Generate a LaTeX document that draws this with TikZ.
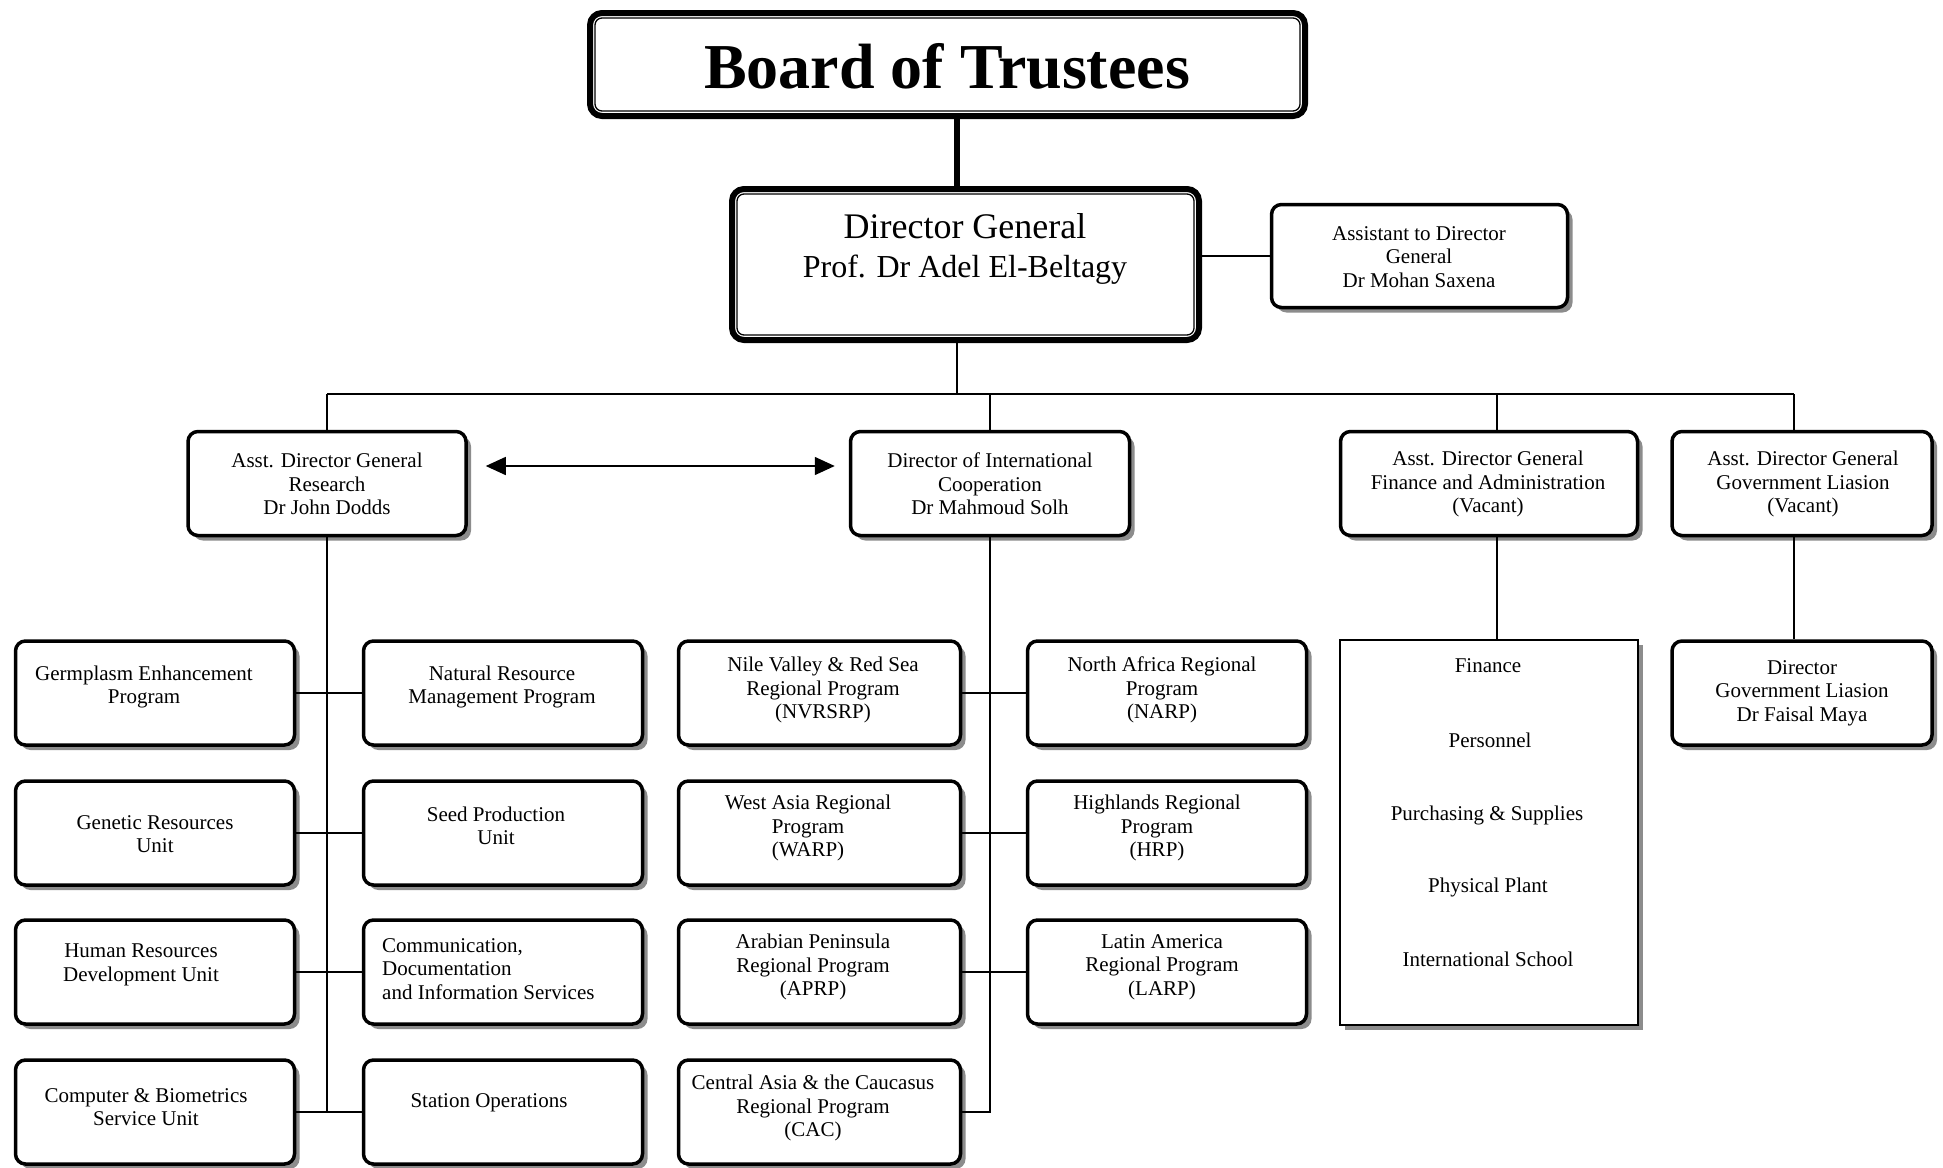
\documentclass[tikz,border=0pt]{standalone}
\usepackage{fontspec}
\setmainfont{Liberation Serif}
\usetikzlibrary{arrows.meta,shadows}
\begin{document}
\begin{tikzpicture}[x=1pt,y=-1pt,
  box/.style={draw, line width=3.5pt, rounded corners=10pt, fill=white,
    drop shadow={shadow xshift=5pt, shadow yshift=-5pt, fill=black!45, opacity=1},
    inner sep=0pt, minimum width=279pt, minimum height=104pt},
  bigbox/.style={draw, line width=6pt, rounded corners=12pt, fill=white, inner sep=0pt},
  innerline/.style={line width=1.3pt, rounded corners=7pt},
  listbox/.style={draw, line width=2.5pt, fill=white,
    drop shadow={shadow xshift=5pt, shadow yshift=-5pt, fill=black!45, opacity=1},
    inner sep=0pt},
  txt/.style={align=center, font=\fontsize{21}{23.5}\selectfont, inner sep=0pt, yshift=-2pt},
  conn/.style={line width=1.5pt},
]
\useasboundingbox[fill=white] (0,0) rectangle (1943,1167);

% ---- top boxes
\node[bigbox, minimum width=715pt, minimum height=103pt] (board) at (947.5,64.5) {};
\draw[innerline] ([shift={(8pt,-8pt)}]board.north west) rectangle ([shift={(-8pt,8pt)}]board.south east);
\node[font=\bfseries\fontsize{64}{70}\selectfont, inner sep=0pt] (tboard) at (947,66) {Board of Trustees};

\node[bigbox, minimum width=467pt, minimum height=151pt] (dg) at (965.5,264.5) {};
\draw[innerline] ([shift={(8pt,-8pt)}]dg.north west) rectangle ([shift={(-8pt,8pt)}]dg.south east);
\node[align=center, font=\fontsize{32}{38.5}\selectfont, inner sep=0pt] (tdg) at (965,249) {{\fontsize{36}{38.5}\selectfont Director General}\\Prof. Dr Adel El-Beltagy};

\node[box, minimum width=296pt, minimum height=103pt] (asst) at (1419.5,256) {};
\node[txt] (tasst) at (1419,255) {Assistant to Director\\General\\Dr Mohan Saxena};

% ---- second level
\node[box, minimum width=278pt] (research) at (327,483.5) {};
\node[txt] (tres) at (327,482) {Asst. Director General\\Research\\Dr John Dodds};
\node[box] (dic) at (990,483.5) {};
\node[txt] (tdic) at (990,482) {Director of International\\Cooperation\\Dr Mahmoud Solh};
\node[box, minimum width=297pt] (finadg) at (1489,483.5) {};
\node[txt] (tfin) at (1488,482) {Asst. Director General\\Finance and Administration\\(Vacant)};
\node[box, minimum width=260pt] (govadg) at (1802,483.5) {};
\node[txt] (tgov) at (1803,482) {Asst. Director General\\Government Liasion\\(Vacant)};

% ---- research units
\node[box] (germ) at (155,693) {};
\node[txt] (tgerm) at (144,685) {Germplasm Enhancement\\Program};
\node[box] (nrm) at (503,693) {};
\node[txt] (tnrm) at (502,685) {Natural Resource\\Management Program};
\node[box] (gen) at (155,833) {};
\node[txt] (tgen) at (155,832) {Genetic Resources\\Unit};
\node[box] (seed) at (503,833) {};
\node[txt] (tseed) at (496,824) {Seed Production\\Unit};
\node[box] (hrd) at (155,972) {};
\node[txt] (thrd) at (141,963) {Human Resources\\Development Unit};
\node[box] (com) at (503,972) {};
\node[txt, align=left, anchor=west] (tcom) at (382,967) {Communication,\\Documentation\\and Information Services};
\node[box] (cbs) at (155,1112) {};
\node[txt] (tcbs) at (146,1105) {Computer \& Biometrics\\Service Unit};
\node[box] (so) at (503,1112) {};
\node[txt] (tso) at (489,1101) {Station Operations};

% ---- regional programs
\node[box, minimum width=282pt] (nv) at (819.5,693) {};
\node[txt] (tnv) at (823,688) {Nile Valley \& Red Sea\\Regional Program\\(NVRSRP)};
\node[box] (na) at (1167,693) {};
\node[txt] (tna) at (1162,688) {North Africa Regional\\Program\\(NARP)};
\node[box, minimum width=282pt] (wa) at (819.5,833) {};
\node[txt] (twa) at (808,826) {West Asia Regional\\Program\\(WARP)};
\node[box] (hi) at (1167,833) {};
\node[txt] (thi) at (1157,826) {Highlands Regional\\Program\\(HRP)};
\node[box, minimum width=282pt] (ap) at (819.5,972) {};
\node[txt] (tap) at (813,965) {Arabian Peninsula\\Regional Program\\(APRP)};
\node[box] (la) at (1167,972) {};
\node[txt] (tla) at (1162,965) {Latin America\\Regional Program\\(LARP)};
\node[box, minimum width=282pt] (cac) at (819.5,1112) {};
\node[txt] (tcac) at (813,1106) {Central Asia \& the Caucasus\\Regional Program\\(CAC)};

% ---- finance list
\node[listbox, minimum width=298pt, minimum height=385pt] (finlist) at (1489,832.5) {};
\node[txt] (f1) at (1488,664) {Finance};
\node[txt] (f2) at (1490,738) {Personnel};
\node[txt] (f3) at (1487,813) {Purchasing \& Supplies};
\node[txt] (f4) at (1488,885) {Physical Plant};
\node[txt] (f5) at (1488,957) {International School};

% ---- government liaison
\node[box, minimum width=260pt] (dgov) at (1802,693) {};
\node[txt] (tdgov) at (1802,691) {Director\\Government Liasion\\Dr Faisal Maya};

% ---- connectors
\draw[line width=6pt] ([xshift=9.5pt]board.south) -- ([xshift=9.5pt]board.south |- dg.north);
\draw[conn] (dg.east |- asst.west) -- (asst.west);
\coordinate (busL) at (327,394);
\coordinate (busR) at (1794,394);
\draw[conn] ([xshift=-8.5pt]dg.south) -- ([xshift=-8.5pt]dg.south |- busL);
\draw[conn] (busL) -- (busR);
\draw[conn] (busL) -- (research.north);
\draw[conn] (dic.north |- busL) -- (dic.north);
\draw[conn] ([xshift=8pt]finadg.north |- busL) -- ([xshift=8pt]finadg.north);
\draw[conn] (busR) -- ([xshift=-8pt]govadg.north);

\draw[line width=1.5pt, {Triangle[length=20pt,width=18pt]}-{Triangle[length=20pt,width=18pt]},
  shorten <=18pt, shorten >=14pt] ([yshift=17.5pt]research.east) -- ([yshift=17.5pt]dic.west);

\draw[conn] (research.south) -- (research.south |- cbs.east);
\draw[conn] (germ.east) -- (nrm.west);
\draw[conn] (gen.east) -- (seed.west);
\draw[conn] (hrd.east) -- (com.west);
\draw[conn] (cbs.east) -- (so.west);

\draw[conn] (dic.south) -- (dic.south |- cac.east) -- (cac.east);
\draw[conn] (nv.east) -- (na.west);
\draw[conn] (wa.east) -- (hi.west);
\draw[conn] (ap.east) -- (la.west);

\draw[conn] ([xshift=8pt]finadg.south) -- ([xshift=8pt]finadg.south |- finlist.north);
\draw[conn] ([xshift=-8pt]govadg.south) -- ([xshift=-8pt]govadg.south |- dgov.north);
\end{tikzpicture}
\end{document}
